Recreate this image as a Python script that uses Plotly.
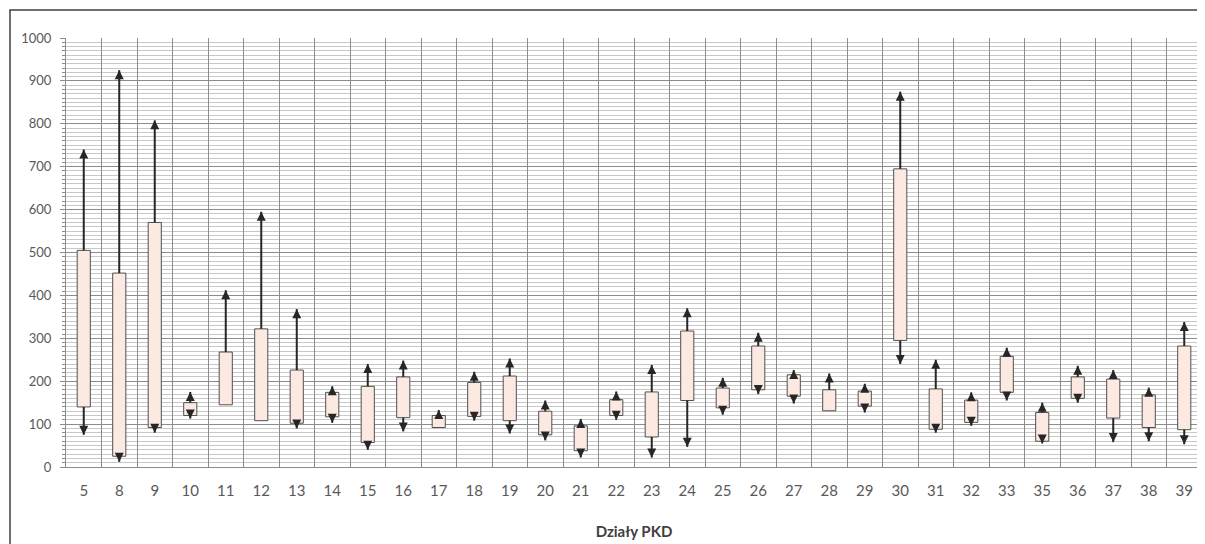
import plotly.graph_objects as go

categories = ["5", "8", "9", "10", "11", "12", "13", "14", "15", "16", "17", "18", "19",
              "20", "21", "22", "23", "24", "25", "26", "27", "28", "29", "30", "31", "32",
              "33", "35", "36", "37", "38", "39"]
box_low = [140, 25, 92, 120, 145, 108, 102, 117, 57, 115, 92, 118, 108,
           75, 38, 120, 70, 155, 138, 180, 165, 131, 142, 295, 88, 104,
           174, 60, 160, 114, 92, 87]
box_high = [505, 452, 570, 150, 268, 322, 226, 174, 188, 210, 120, 197, 212,
            130, 96, 157, 175, 317, 184, 282, 215, 180, 177, 695, 182, 156,
            258, 127, 210, 205, 168, 282]
whisker_min = [75, 12, 80, 113, 145, 108, 90, 103, 40, 83, 92, 108, 78,
               62, 22, 110, 22, 47, 122, 170, 148, 131, 127, 240, 80, 96,
               155, 55, 150, 58, 60, 53]
whisker_max = [740, 925, 808, 175, 412, 595, 368, 188, 240, 248, 133, 222, 253,
               155, 112, 176, 238, 370, 208, 313, 226, 218, 194, 875, 250, 174,
               278, 150, 236, 226, 185, 338]
y_ticks = [0, 100, 200, 300, 400, 500, 600, 700, 800, 900, 1000]
x_title = "Działy PKD"

# whisker segments outside the boxes
wx, wy = [], []
for c, lo, hi, wmin, wmax in zip(categories, box_low, box_high, whisker_min, whisker_max):
    if wmax > hi:
        wx += [c, c, None]
        wy += [hi, wmax, None]
    if wmin < lo:
        wx += [c, c, None]
        wy += [wmin, lo, None]

up_x = [c for c, hi, wmax in zip(categories, box_high, whisker_max) if wmax > hi]
up_y = [wmax for hi, wmax in zip(box_high, whisker_max) if wmax > hi]
dn_x = [c for c, lo, wmin in zip(categories, box_low, whisker_min) if wmin < lo]
dn_y = [wmin for lo, wmin in zip(box_low, whisker_min) if wmin < lo]

fig = go.Figure()
fig.add_trace(go.Bar(
    x=categories,
    y=[h - l for h, l in zip(box_high, box_low)],
    base=box_low,
    width=0.37,
    marker=dict(color="#FCE9E2", line=dict(color="#505050", width=1)),
    hoverinfo="skip",
))
fig.add_trace(go.Scatter(
    x=wx, y=wy, mode="lines",
    line=dict(color="#262626", width=2),
    hoverinfo="skip",
))
fig.add_trace(go.Scatter(
    x=up_x, y=up_y, mode="markers",
    marker=dict(symbol="arrow-up", size=9, color="#262626"),
    hoverinfo="skip",
))
fig.add_trace(go.Scatter(
    x=dn_x, y=dn_y, mode="markers",
    marker=dict(symbol="arrow-down", size=9, color="#262626"),
    hoverinfo="skip",
))

# page has an 8px body margin: figure coordinates = page coordinates - 8
off = 8
W, H = 1205 - off, 544 - off
plot_l, plot_r, plot_t, plot_b = 66 - off, 1202 - off, 38 - off, 467 - off
pw, ph = plot_r - plot_l, plot_b - plot_t

fig.update_layout(
    width=W, height=H,
    margin=dict(l=plot_l, r=W - plot_r, t=plot_t, b=H - plot_b, autoexpand=False),
    paper_bgcolor="white", plot_bgcolor="white",
    showlegend=False,
    font=dict(family="Lato, Open Sans, sans-serif", color="#595959"),
    xaxis=dict(
        type="category",
        categoryorder="array", categoryarray=categories,
        tickson="boundaries",
        showgrid=True, gridcolor="#8c8c8c", gridwidth=1,
        showline=True, linecolor="#8c8c8c",
        ticks="", tickfont=dict(size=15, color="#595959"),
        ticklabelstandoff=10,
        title=dict(text="<b>" + x_title + "</b>", font=dict(size=15, color="#404040"), standoff=28),
        range=[-0.5, len(categories) - 0.5],
        zeroline=False,
        automargin=False,
    ),
    yaxis=dict(
        range=[0, 1000],
        tickvals=y_ticks,
        showgrid=True, gridcolor="#8c8c8c", gridwidth=1,
        showline=True, linecolor="#8c8c8c",
        ticks="outside", ticklen=5, tickcolor="#8c8c8c",
        ticklabelstandoff=6,
        tickfont=dict(size=13, color="#595959"),
        minor=dict(dtick=10, showgrid=True, gridcolor="#c8c8c8", gridwidth=1,
                   ticks="outside", ticklen=3, tickcolor="#8c8c8c"),
        zeroline=False,
        automargin=False,
    ),
    shapes=[dict(
        type="rect", xref="paper", yref="paper",
        x0=(10 - off - plot_l) / pw, x1=(W + 40 - plot_l) / pw,
        y0=-(H + 20 - plot_b) / ph, y1=1 + (plot_t - (10 - off)) / ph,
        line=dict(color="#404040", width=1.5), fillcolor="rgba(0,0,0,0)",
        layer="below",
    )],
)

fig.write_html("out.html")
